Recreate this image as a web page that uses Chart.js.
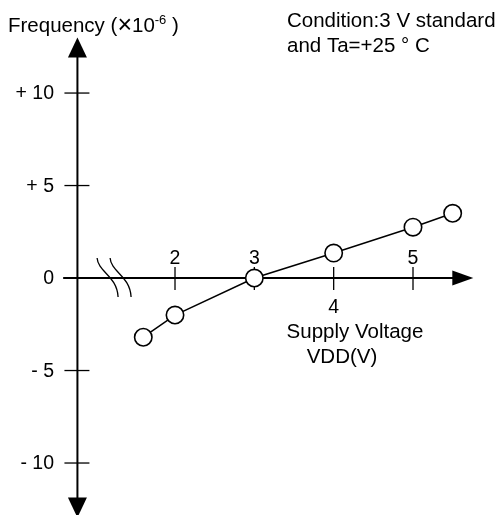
<!DOCTYPE html>
<html>
<head>
<meta charset="utf-8">
<script src="https://cdn.jsdelivr.net/npm/chart.js@4/dist/chart.umd.min.js"></script>
<style>
  html, body { margin: 0; padding: 0; background: #fff; }
  #wrap { width: 499px; height: 515px; position: relative; }
</style>
</head>
<body>
<div id="wrap"><canvas id="freqChart"></canvas></div>
<script>
// supply voltage (V) vs frequency deviation (x10^-6)
const voltage = [1.6, 2.0, 3.0, 4.0, 5.0, 5.5];
const freqDev = [-3.2, -2.0, 0, 1.35, 2.75, 3.5];

const xTicks = [2, 3, 4, 5];
const xTickLabels = ['2', '3', '4', '5'];
const yTicks = [10, 5, 0, -5, -10];
const yTickLabels = ['+ 10', '+ 5', '0', '- 5', '- 10'];

const FONT = '"Liberation Sans", Arial, sans-serif';

// draws the crossing axes, arrows, ticks, axis break and labels
const axesPlugin = {
  id: 'crossAxes',
  beforeDatasetsDraw(chart) {
    const { ctx } = chart;
    const x = chart.scales.x, y = chart.scales.y;
    const ax = x.getPixelForValue(0.77);   // where the vertical axis sits (broken scale)
    const y0 = y.getPixelForValue(0);

    ctx.save();
    ctx.strokeStyle = '#000';
    ctx.fillStyle = '#000';

    // vertical axis
    const topTip = y.getPixelForValue(13.0);
    const botTip = y.getPixelForValue(-12.95);
    ctx.lineWidth = 2;
    ctx.beginPath();
    ctx.moveTo(ax, topTip + 10);
    ctx.lineTo(ax, botTip - 10);
    ctx.stroke();
    ctx.beginPath();
    ctx.moveTo(ax, topTip);
    ctx.lineTo(ax - 9.5, topTip + 20);
    ctx.lineTo(ax + 9.5, topTip + 20);
    ctx.closePath();
    ctx.fill();
    ctx.beginPath();
    ctx.moveTo(ax, botTip);
    ctx.lineTo(ax - 9.5, botTip - 20);
    ctx.lineTo(ax + 9.5, botTip - 20);
    ctx.closePath();
    ctx.fill();

    // horizontal axis
    const left = x.getPixelForValue(0.59);
    const rightTip = x.getPixelForValue(5.76);
    ctx.beginPath();
    ctx.moveTo(left, y0);
    ctx.lineTo(rightTip - 10, y0);
    ctx.stroke();
    ctx.beginPath();
    ctx.moveTo(rightTip, y0);
    ctx.lineTo(rightTip - 21, y0 - 7.5);
    ctx.lineTo(rightTip - 21, y0 + 7.5);
    ctx.closePath();
    ctx.fill();

    // axis break marks
    const bx = x.getPixelForValue(1.27);
    ctx.lineWidth = 1.3;
    [-13, 0].forEach(off => {
      const sx = bx + off;
      ctx.beginPath();
      ctx.moveTo(sx - 7, y0 - 20);
      ctx.bezierCurveTo(sx - 6, y0 - 6, sx + 13, y0 - 2, sx + 14, y0 + 19);
      ctx.stroke();
    });

    // y ticks
    ctx.lineWidth = 1.3;
    ctx.font = '19.5px ' + FONT;
    ctx.textAlign = 'right';
    ctx.textBaseline = 'middle';
    yTicks.forEach((v, i) => {
      const py = y.getPixelForValue(v);
      if (v !== 0) {
        ctx.beginPath();
        ctx.moveTo(ax - 13, py);
        ctx.lineTo(ax + 12, py);
        ctx.stroke();
      }
      ctx.fillText(yTickLabels[i], 54, py + 1);
    });

    // x ticks
    ctx.textAlign = 'center';
    xTicks.forEach((v, i) => {
      const px = x.getPixelForValue(v);
      ctx.beginPath();
      ctx.moveTo(px, y0 - 11);
      ctx.lineTo(px, y0 + 12);
      ctx.stroke();
      if (v === 4) {
        ctx.textBaseline = 'top';
        ctx.fillText(xTickLabels[i], px, y0 + 20);
      } else {
        ctx.textBaseline = 'bottom';
        ctx.fillText(xTickLabels[i], px, y0 - 10);
      }
    });

    // axis titles
    ctx.textBaseline = 'alphabetic';
    ctx.textAlign = 'left';
    let tx = 8;
    const parts = [
      ['Frequency (', '20.5px', 32],
      ['\u00d7', '25px', 33],
      ['10', '20.5px', 32],
      ['-6', '13px', 24],
      [' )', '20.5px', 32]
    ];
    parts.forEach(([s, size, base]) => {
      ctx.font = size + ' ' + FONT;
      ctx.fillText(s, tx, base);
      tx += ctx.measureText(s).width;
    });

    ctx.font = '20.5px ' + FONT;
    ctx.fillText('Condition:3 V standard', 287, 27);
    ctx.fillText('and Ta=+25 \u00b0 C', 287, 52);

    ctx.textAlign = 'center';
    ctx.fillText('Supply Voltage', 355, 338);
    ctx.fillText('VDD(V)', 342, 363);
    ctx.restore();
  }
};

new Chart(document.getElementById('freqChart'), {
  type: 'scatter',
  data: {
    datasets: [{
      data: voltage.map((v, i) => ({ x: v, y: freqDev[i] })),
      showLine: true,
      borderColor: '#000',
      borderWidth: 1.5,
      pointRadius: 8.7,
      pointBorderWidth: 1.6,
      pointBackgroundColor: '#fff',
      pointBorderColor: '#000'
    }]
  },
  options: {
    responsive: true,
    maintainAspectRatio: false,
    animation: false,
    layout: { padding: 0, autoPadding: false },
    plugins: { legend: { display: false }, tooltip: { enabled: false } },
    scales: {
      x: { type: 'linear', display: false, min: -0.206, max: 6.084 },
      y: { type: 'linear', display: false, min: -12.81, max: 15.03 }
    }
  },
  plugins: [axesPlugin]
});
</script>
</body>
</html>
